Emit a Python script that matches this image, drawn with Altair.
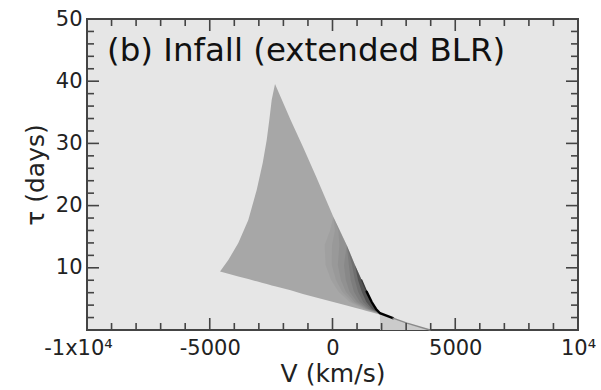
import altair as alt
import pandas as pd

# ---- transfer-function outline ----
# main body: for each velocity, the upper and lower delay of the filled region
v_body = [-4582, -4244, -3837, -3430, -3088, -2843, -2680, -2574, -2477, -2342,
          -1705, -1205, -665, 33, 578, 916, 1189, 1393, 1597, 1772, 1935, 2016]
tau_body_top = [9.4, 11.25, 13.99, 17.68, 22.51, 26.85, 30.55, 33.76, 36.98, 39.55,
                33.76, 29.47, 24.65, 18.2, 13.67, 10.45, 8.04, 6.16, 4.5, 3.38, 2.7, 2.58]
tau_body_bottom = [9.4, 9.04, 8.61, 8.18, 7.82, 7.56, 7.38, 7.27, 7.17, 7.02,
                   6.38, 5.80, 5.22, 4.50, 3.93, 3.57, 3.28, 3.06, 2.84, 2.66, 2.49, 2.4]

# faint low-delay tail under the ridge
v_tail = [1935, 2464, 3035, 3971]
tau_tail_top = [2.7, 1.9, 1.1, 0]
tau_tail_bottom = [0, 0, 0, 0]

# darker shading along the lower right edge: edge points and widths of shading contours
tau_shade = [18.2, 16, 13.67, 10.45, 8.04, 6.16, 4.5, 3.38, 2.58]
v_shade_edge = [33, 298, 578, 916, 1189, 1393, 1597, 1772, 2016]
shade_widths = [
    [0, 400, 900, 1200, 1250, 1150, 900, 500, 60],
    [0, 200, 600, 950, 1050, 1000, 800, 450, 55],
    [0, 60, 300, 700, 850, 850, 700, 400, 50],
    [0, 0, 0, 450, 650, 700, 600, 350, 45],
    [0, 0, 0, 250, 450, 520, 480, 300, 40],
    [0, 0, 0, 120, 280, 350, 350, 230, 35],
    [0, 0, 0, 0, 150, 200, 220, 160, 30],
]
shade_opacity = [0.04, 0.04, 0.05, 0.06, 0.08, 0.10, 0.25]

# dark ridge along the lower right edge
v_ridge_top = [1189, 1393]
tau_ridge_top = [8.04, 6.16]
v_ridge = [1393, 1597, 1772, 1935, 2464]
tau_ridge = [6.16, 4.5, 3.38, 2.7, 1.9]
v_ridge_tail = [2464, 3035, 3971]
tau_ridge_tail = [1.9, 1.1, 0]

# ---- axes ----
x_labels_at = [-10000, -5000, 0, 5000, 10000]
y_labels_at = [10, 20, 30, 40, 50]
x_major = [-5000, 0, 5000]
x_minor = [-9000, -8000, -7000, -6000, -4000, -3000, -2000, -1000,
           1000, 2000, 3000, 4000, 6000, 7000, 8000, 9000]
y_major = [10, 20, 30, 40]
y_minor = [2, 4, 6, 8, 12, 14, 16, 18, 22, 24, 26, 28, 32, 34, 36, 38, 42, 44, 46, 48]
panel_label = ["(b) Infall (extended BLR)"]

W, H = 491, 311
FONT = "DejaVu Sans"
AX = "#444444"

xs = alt.Scale(domain=[-10000, 10000], nice=False, zero=False)
ys = alt.Scale(domain=[0, 50], nice=False, zero=False)

x_axis = alt.Axis(
    values=x_labels_at, ticks=False, domain=False, grid=False,
    labelExpr="datum.value == -10000 ? '-1x10⁴' : (datum.value == 10000 ? '10⁴' : '' + datum.value)",
    labelOffset={"condition": {"test": "datum.value == -10000", "value": -9}, "value": 0},
    labelPadding=7, labelFont=FONT, labelFontSize=21, labelColor="#222",
    labelFlush=False, labelOverlap=False,
    title="V (km/s)", titleFont=FONT, titleFontSize=25, titleFontWeight="normal",
    titleColor="#222", titleY=43, titleBaseline="middle")
y_axis = alt.Axis(
    values=y_labels_at, format="d", ticks=False, domain=False, grid=False,
    labelPadding=5, labelFont=FONT, labelFontSize=21, labelColor="#222",
    title="τ (days)", titleFont=FONT, titleFontSize=25, titleFontWeight="normal",
    titleColor="#222", titleX=-52, titleY=H / 2, titleBaseline="middle",
    titleAlign="center", titleAngle=270)


def X(field):
    return alt.X(field, type="quantitative", scale=xs, axis=x_axis)


def Y(field):
    return alt.Y(field, type="quantitative", scale=ys, axis=y_axis)


def vregion(v, top, bottom, color):
    df = pd.DataFrame({"v": v, "t1": top, "t0": bottom})
    return alt.Chart(df).mark_area(color=color, strokeWidth=0).encode(
        x=X("v"), y=Y("t1"), y2="t0")


def polygon(v, tau, color, opacity):
    df = pd.DataFrame({"v": v, "tau": tau, "i": list(range(len(v)))})
    return alt.Chart(df).mark_line(fill=color, fillOpacity=opacity, strokeWidth=0,
                                   strokeOpacity=0).encode(
        x=X("v"), y=Y("tau"), order=alt.Order("i:Q"))


def shade(widths, opacity):
    inner = [e - w for e, w in zip(v_shade_edge, widths)]
    v = inner + v_shade_edge[::-1]
    t = tau_shade + tau_shade[::-1]
    return polygon(v, t, "#000000", opacity)


def curve(v, tau, color, width):
    df = pd.DataFrame({"v": v, "tau": tau})
    return alt.Chart(df).mark_line(color=color, strokeWidth=width,
                                   strokeCap="round").encode(x=X("v"), y=Y("tau"))


tail = vregion(v_tail, tau_tail_top, tau_tail_bottom, "#cbcbcb")
body = vregion(v_body, tau_body_top, tau_body_bottom, "#a7a7a7")
shades = [shade(w, o) for w, o in zip(shade_widths, shade_opacity)]
ridges = [curve(v_ridge_top, tau_ridge_top, "#3a3a3a", 1.4),
          curve(v_ridge, tau_ridge, "#000000", 2.4),
          curve(v_ridge_tail, tau_ridge_tail, "#8a8a8a", 1.4)]


def xticks(vals, length):
    df = pd.DataFrame({"v": vals})
    bottom = alt.Chart(df).mark_rule(color=AX, strokeWidth=1.6).encode(
        x=X("v"), y=alt.value(H), y2=alt.value(H - length))
    top = alt.Chart(df).mark_rule(color=AX, strokeWidth=1.6).encode(
        x=X("v"), y=alt.value(0), y2=alt.value(length))
    return [bottom, top]


def yticks(vals, length):
    df = pd.DataFrame({"tau": vals})
    left = alt.Chart(df).mark_rule(color=AX, strokeWidth=1.6).encode(
        y=Y("tau"), x=alt.value(0), x2=alt.value(length))
    right = alt.Chart(df).mark_rule(color=AX, strokeWidth=1.6).encode(
        y=Y("tau"), x=alt.value(W), x2=alt.value(W - length))
    return [left, right]


label = alt.Chart(pd.DataFrame({"txt": panel_label})).mark_text(
    font=FONT, fontSize=32.5, color="#111", align="left", baseline="middle").encode(
    text="txt:N", x=alt.value(20), y=alt.value(32))

layers = [tail, body] + shades + ridges
layers += xticks(x_major, 12) + xticks(x_minor, 7) + yticks(y_major, 12) + yticks(y_minor, 7)
layers += [label]

chart = alt.layer(*layers).properties(
    width=W, height=H,
    autosize=alt.AutoSizeParams(type="none"),
    padding={"left": 87, "top": 19, "right": 23, "bottom": 60},
    background="white",
).configure_view(fill="#e6e6e6", stroke=AX, strokeWidth=2)

chart.save("out.html", embed_options={"renderer": "svg", "actions": False})
